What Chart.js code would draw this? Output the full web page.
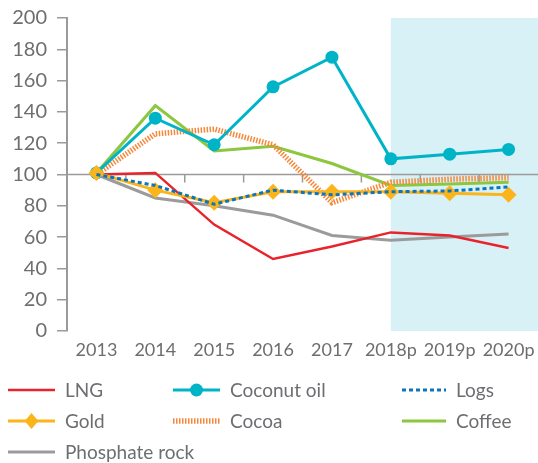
<!DOCTYPE html>
<html><head><meta charset="utf-8">
<script src="https://cdn.jsdelivr.net/npm/chart.js@4"></script>
<style>html,body{margin:0;padding:0;background:#fff}#wrap{width:538px;height:463px;position:relative}</style>
</head><body><div id="wrap"><canvas id="c"></canvas></div>
<script>
const years = ['2013','2014','2015','2016','2017','2018p','2019p','2020p'];
const lng = [100, 101, 68, 46, 54, 63, 61, 53];
const coconutOil = [101, 136, 119, 156, 175, 110, 113, 116];
const logs = [100, 93, 81, 90, 87, 89, 89.5, 92];
const gold = [101, 90, 82, 89, 89, 89, 88, 87];
const cocoa = [100, 126, 129, 119, 82, 95, 97, 98];
const coffee = [101, 144, 115, 118, 107, 93, 94, 95];
const phosphate = [100, 85, 80, 74, 61, 58, 60, 62];
const yTicks = [0,20,40,60,80,100,120,140,160,180,200];
const forecastStart = '2018p';
const baseline = 100;

const textColor = '#6d6e71';
const axisColor = '#9a9a9a';
const fontFam = 'Lato, "Open Sans", sans-serif';

const datasets = [
  {label:'LNG', data:lng, borderColor:'#e8232b', backgroundColor:'#e8232b', borderWidth:2.5, pointRadius:0, order:3},
  {label:'Coconut oil', data:coconutOil, borderColor:'#00b4c8', backgroundColor:'#00b4c8', borderWidth:3, pointRadius:6.5, pointStyle:'circle', order:2},
  {label:'Logs', data:logs, borderColor:'#0b76bb', backgroundColor:'#0b76bb', borderWidth:3, borderDash:[4,3], pointRadius:0, order:0},
  {label:'Gold', data:gold, borderColor:'#fbb41a', backgroundColor:'#fbb41a', borderWidth:3, pointRadius:8, pointStyle:'rectRot', order:1},
  {label:'Cocoa', data:cocoa, borderColor:'#f5883a', backgroundColor:'#f5883a', borderWidth:5.5, borderDash:[1.5,1.5], pointRadius:0, order:4},
  {label:'Coffee', data:coffee, borderColor:'#8dc63f', backgroundColor:'#8dc63f', borderWidth:3, pointRadius:0, order:5},
  {label:'Phosphate rock', data:phosphate, borderColor:'#9b9b9b', backgroundColor:'#9b9b9b', borderWidth:3, pointRadius:0, order:6}
];
datasets.forEach(d=>{d.tension=0; d.pointBorderWidth=0; d.pointHoverRadius=d.pointRadius; d.fill=false; d.borderCapStyle='butt';});

const shadePlugin = {
  id:'shade',
  beforeDatasetsDraw(chart){
    const {ctx, chartArea:a, scales:{x,y}} = chart;
    const x0 = x.getPixelForValue(years.indexOf(forecastStart));
    ctx.save();
    ctx.fillStyle = '#d8f1f6';
    ctx.fillRect(x0, a.top, a.right - x0, a.bottom - a.top);
    const yb = y.getPixelForValue(baseline);
    ctx.strokeStyle = axisColor; ctx.lineWidth = 1.5;
    ctx.beginPath(); ctx.moveTo(a.left, yb); ctx.lineTo(a.right, yb); ctx.stroke();
    for (let i=0;i<years.length-1;i++){
      const xm = (x.getPixelForValue(i)+x.getPixelForValue(i+1))/2;
      ctx.beginPath(); ctx.moveTo(xm, yb); ctx.lineTo(xm, yb+8); ctx.stroke();
    }
    ctx.restore();
  }
};

const legendPos = [[8,390,47],[173,390,47],[402,390,44],[8,421,47],[173,421,47],[402,421,44],[8,452,47]];
const legendPlugin = {
  id:'customLegend',
  afterDraw(chart){
    const ctx = chart.ctx;
    chart.data.datasets.forEach((ds,i)=>{
      const [x,y,w] = legendPos[i];
      ctx.save();
      ctx.strokeStyle = ds.borderColor; ctx.lineWidth = ds.borderWidth;
      ctx.setLineDash(ds.borderDash || []);
      ctx.beginPath(); ctx.moveTo(x,y); ctx.lineTo(x+w,y); ctx.stroke();
      ctx.setLineDash([]);
      ctx.fillStyle = ds.backgroundColor;
      const cx = x+w/2, r = ds.pointRadius;
      if (r>0){
        ctx.beginPath();
        if (ds.pointStyle==='circle'){ ctx.arc(cx,y,r,0,Math.PI*2); }
        else { ctx.moveTo(cx,y-r); ctx.lineTo(cx+r*0.85,y); ctx.lineTo(cx,y+r); ctx.lineTo(cx-r*0.85,y); ctx.closePath(); }
        ctx.fill();
      }
      ctx.fillStyle = textColor; ctx.font = '19px '+fontFam;
      ctx.textBaseline = 'middle'; ctx.textAlign='left';
      ctx.fillText(ds.label, x+w+10, y+1);
      ctx.restore();
    });
  }
};

new Chart(document.getElementById('c'), {
  type:'line',
  data:{labels:years, datasets},
  plugins:[shadePlugin, legendPlugin],
  options:{
    responsive:true, maintainAspectRatio:false, animation:false,
    layout:{autoPadding:false, padding:{top:18,right:0,bottom:94,left:0}},
    plugins:{legend:{display:false}, tooltip:{enabled:false}},
    scales:{
      x:{offset:true, grid:{display:false, drawTicks:false}, border:{display:false},
         ticks:{color:textColor, font:{family:fontFam,size:18}, padding:8, maxRotation:0, autoSkip:false},
         afterFit(s){s.height=38; s.paddingRight=0; s.paddingLeft=0;}},
      y:{min:0, max:200,
         afterBuildTicks(s){s.ticks = yTicks.map(v=>({value:v}));},
         ticks:{color:textColor, font:{family:fontFam,size:20}, padding:10},
         grid:{drawOnChartArea:false, tickLength:10, color:axisColor, lineWidth:1.5},
         border:{color:axisColor, width:2},
         afterFit(s){s.width=67; s.paddingTop=0; s.paddingBottom=0;}}
    }
  }
});
</script></body></html>
